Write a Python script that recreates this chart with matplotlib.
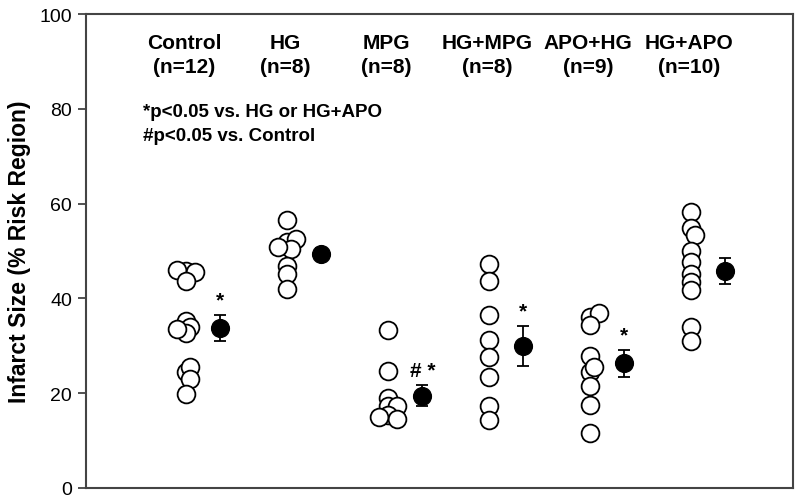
import matplotlib
matplotlib.use("Agg")
import matplotlib.pyplot as plt
import numpy as np

plt.rcParams['font.family'] = ['Liberation Sans', 'DejaVu Sans']

groups = ["Control", "HG", "MPG", "HG+MPG", "APO+HG", "HG+APO"]
n_labels = ["(n=12)", "(n=8)", "(n=8)", "(n=8)", "(n=9)", "(n=10)"]

control = [45.8, 45.6, 45.9, 43.6, 35.3, 33.9, 32.8, 33.5, 24.4, 25.5, 23.0, 19.8]
hg = [56.6, 51.8, 52.5, 50.4, 50.8, 46.9, 45.1, 42.0]
mpg = [33.4, 24.6, 18.9, 17.4, 17.2, 15.5, 14.6, 14.9]
hg_mpg = [47.3, 43.6, 36.6, 31.3, 27.6, 23.5, 17.2, 14.3]
apo_hg = [36.0, 36.9, 34.4, 27.8, 24.4, 25.5, 21.5, 17.5, 11.6]
hg_apo = [58.3, 54.8, 53.4, 50.1, 47.7, 45.1, 43.4, 41.8, 33.9, 31.1]
individual = [control, hg, mpg, hg_mpg, apo_hg, hg_apo]

means = [33.8, 49.4, 19.5, 30.0, 26.3, 45.8]
sems = [2.7, 1.2, 2.2, 4.2, 2.8, 2.8]
sig_marks = ["*", "", "# *", "*", "*", ""]

legend_lines = ["*p<0.05 vs. HG or HG+APO", "#p<0.05 vs. Control"]

fig = plt.figure(figsize=(8, 5.02), dpi=100)
ax = fig.add_axes([86/800, 13/502, 707/800, 474/502])
xlo, xhi = 0.01, 7.01
ylo, yhi = 0, 100
ax.set_xlim(xlo, xhi)
ax.set_ylim(ylo, yhi)

# pixel scales for a simple swarm layout
px_per_x = 707 / (xhi - xlo)
px_per_y = 474 / (yhi - ylo)
diam_px = 18.0

def swarm(vals):
    placed = []
    offs = []
    steps = [0, 1, -1, 2, -2, 3, -3]
    for v in vals:
        ypx = v * px_per_y
        chosen = 0
        for s in steps:
            xpx = s * 4.5
            ok = all(np.hypot(xpx - px, ypx - py) >= 0.38 * diam_px for px, py in placed)
            if ok:
                chosen = xpx
                break
        placed.append((chosen, ypx))
        offs.append(chosen / px_per_x)
    return offs

mean_offset = 0.34
for i, vals in enumerate(individual):
    xc = i + 1
    offs = swarm(vals)
    for v, o in zip(vals, offs):
        ax.plot(xc + o, v, marker='o', markersize=12.8, markerfacecolor='white',
                markeredgecolor='black', markeredgewidth=1.3, linestyle='none', zorder=3)
    xm = xc + mean_offset
    ax.errorbar(xm, means[i], yerr=sems[i], fmt='o', markersize=12.8,
                markerfacecolor='black', markeredgecolor='black', ecolor='black',
                elinewidth=1.3, capsize=4.5, capthick=1.3, zorder=4)
    if sig_marks[i]:
        ax.annotate(sig_marks[i], (xm, means[i] + sems[i]), xytext=(0, 4),
                    textcoords='offset points', ha='center', va='bottom',
                    fontsize=15, fontweight='bold')
    ax.text(xc - 0.02, 94.0, groups[i], ha='center', va='center', fontsize=15, fontweight='bold')
    ax.text(xc - 0.02, 89.0, n_labels[i], ha='center', va='center', fontsize=15, fontweight='bold')

ax.text(0.57, 79.4, legend_lines[0], ha='left', va='center', fontsize=13.5, fontweight='bold')
ax.text(0.57, 74.3, legend_lines[1], ha='left', va='center', fontsize=13.5, fontweight='bold')

ax.set_yticks([0, 20, 40, 60, 80, 100])
ax.set_xticks([])
ax.tick_params(axis='y', direction='out', length=6, width=1.2, labelsize=14, colors='#333333',
               labelcolor='black', pad=4)
for sp in ax.spines.values():
    sp.set_color('#444444')
    sp.set_linewidth(1.5)
ax.set_ylabel("Infarct Size (% Risk Region)", fontsize=16.5, fontweight='bold', labelpad=6)

fig.savefig("out.png", dpi=100)
